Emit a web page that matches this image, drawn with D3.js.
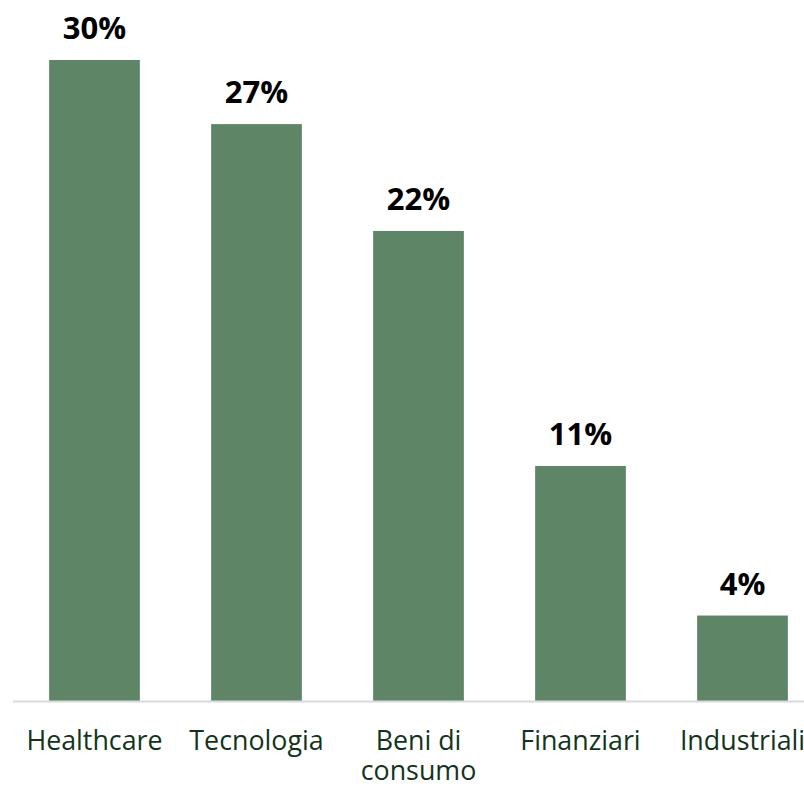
<!DOCTYPE html>
<html>
<head>
<meta charset="utf-8">
<script src="https://cdn.jsdelivr.net/npm/d3@7"></script>
<style>
  html, body { margin: 0; padding: 0; background: #ffffff; }
  svg { display: block; }
</style>
</head>
<body>
<svg id="chart" width="804" height="788"></svg>
<script>
const categories = ["Healthcare", "Tecnologia", "Beni di consumo", "Finanziari", "Industriali"];
const categoryLines = [["Healthcare"], ["Tecnologia"], ["Beni di", "consumo"], ["Finanziari"], ["Industriali"]];
const values = [30, 27, 22, 11, 4];
const valueLabels = ["30%", "27%", "22%", "11%", "4%"];

const svg = d3.select("#chart");
const baseline = 701;

const x = d3.scaleBand()
  .domain(categories)
  .range([13.5, 823.5])
  .paddingInner(0.44)
  .paddingOuter(0.22);

const y = d3.scaleLinear()
  .domain([0, 30])
  .range([baseline, 60]);

svg.append("g")
  .selectAll("rect")
  .data(values)
  .join("rect")
  .attr("x", (d, i) => x(categories[i]))
  .attr("y", d => y(d))
  .attr("width", x.bandwidth())
  .attr("height", d => baseline - y(d))
  .attr("fill", "#5e8566");

// axis line
svg.append("line")
  .attr("x1", 13).attr("x2", 804)
  .attr("y1", baseline + 0.5).attr("y2", baseline + 0.5)
  .attr("stroke", "#d9d9d9")
  .attr("stroke-width", 2);

// value labels
svg.append("g")
  .selectAll("text")
  .data(values)
  .join("text")
  .attr("x", (d, i) => x(categories[i]) + x.bandwidth() / 2)
  .attr("y", d => y(d) - 21)
  .attr("text-anchor", "middle")
  .attr("font-family", "'Open Sans', sans-serif")
  .attr("font-weight", "bold")
  .attr("font-size", 31)
  .attr("fill", "#000000")
  .text((d, i) => valueLabels[i]);

// category labels
const cat = svg.append("g")
  .selectAll("text")
  .data(categories)
  .join("text")
  .attr("x", d => x(d) + x.bandwidth() / 2)
  .attr("y", 750)
  .attr("text-anchor", "middle")
  .attr("font-family", "'Open Sans', sans-serif")
  .attr("font-size", 26.8)
  .attr("fill", "#12351a");

cat.each(function(d, i) {
  const t = d3.select(this);
  categoryLines[i].forEach((line, j) => {
    t.append("tspan")
      .attr("x", x(d) + x.bandwidth() / 2)
      .attr("dy", j === 0 ? 0 : 29.5)
      .text(line);
  });
});
</script>
</body>
</html>
